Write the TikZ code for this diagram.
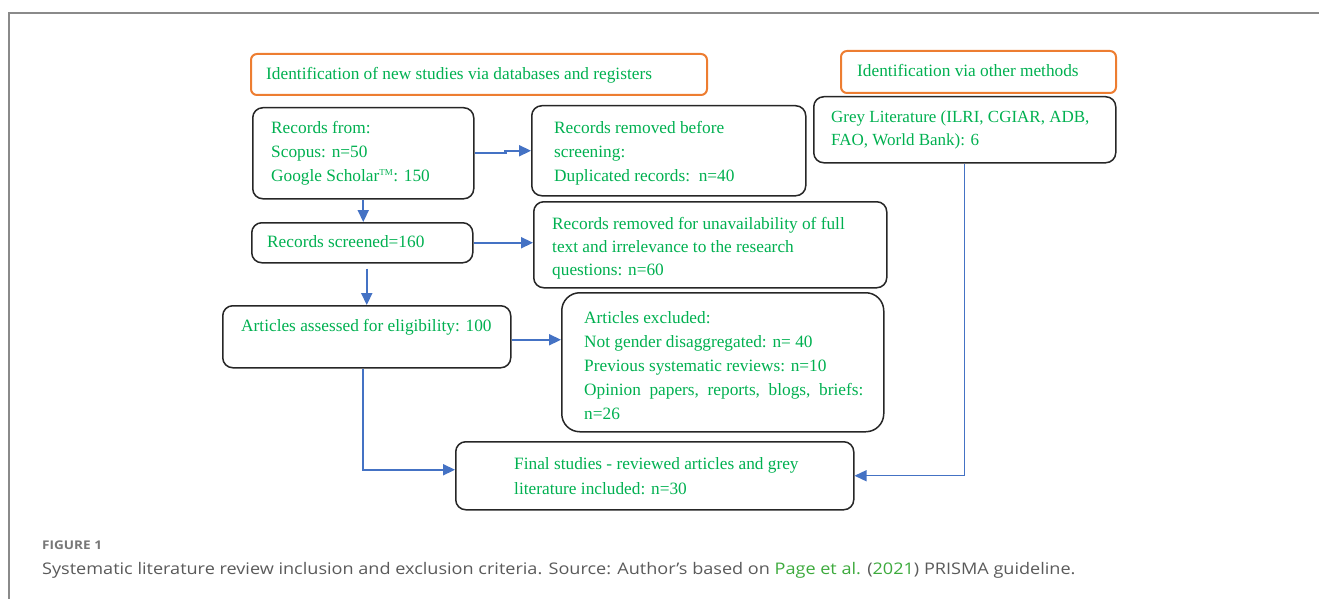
\documentclass[tikz,border=0pt]{standalone}
\usepackage{fontspec}
\setmainfont{Liberation Serif}
\newfontfamily\capfont[FakeStretch=1.13]{Open Sans}
\usetikzlibrary{arrows.meta,calc}
\definecolor{txtgreen}{HTML}{00B050}
\definecolor{orangeb}{HTML}{ED7D31}
\definecolor{bluea}{HTML}{4472C4}
\definecolor{capgray}{HTML}{5A5A5A}
\definecolor{figgray}{HTML}{777777}
\definecolor{framegray}{HTML}{8A8A8A}
\definecolor{linkgreen}{HTML}{3DAA3D}
\tikzset{
  box/.style={draw=black!85, line width=1.5pt, rounded corners=10pt, anchor=north west, inner sep=0pt},
  obox/.style={draw=orangeb, line width=2pt, rounded corners=6pt, anchor=north west, inner sep=0pt},
  txt/.style={text=txtgreen, align=left, inner sep=0pt, anchor=north west, font=\fontsize{17.3}{24}\selectfont},
  conn/.style={draw=bluea, line width=2.2pt, -{Triangle[length=12pt,width=11pt]}},
  thinconn/.style={draw=bluea, line width=1.3pt, -{Triangle[length=12pt,width=11pt]}},
}
\begin{document}
\begin{tikzpicture}[x=1pt,y=-1pt]
\useasboundingbox (0,0) rectangle (1319,599);
% frame
\draw[framegray, line width=1.6pt] (1319,13) -- (9,13) -- (9,599);
% boxes
\node[obox, minimum width=456pt, minimum height=41pt] (h1) at (250,53) {};
\node[obox, minimum width=275pt, minimum height=42pt] (h2) at (840,50) {};
\node[box, minimum width=221pt, minimum height=91pt] (rf) at (252,107) {};
\node[box, minimum width=274pt, minimum height=90pt] (rm1) at (531,105) {};
\node[box, minimum width=302pt, minimum height=66pt] (grey) at (813,96) {};
\node[box, minimum width=221pt, minimum height=40pt] (rs) at (251,222) {};
\node[box, minimum width=353pt, minimum height=86pt] (rm2) at (533,201) {};
\node[box, minimum width=288pt, minimum height=62pt] (aa) at (222,305) {};
\node[box, rounded corners=18pt, minimum width=322pt, minimum height=139pt] (ae) at (561,292) {};
\node[box, minimum width=398pt, minimum height=68pt] (fs) at (455,441) {};
% texts
\node[txt] (t1) at (266,62.7) {\strut Identification of new studies via databases and registers};
\node[txt] (t2) at (857,59.7) {\strut Identification via other methods};
\node[txt] (t3) at (271,116.7) {\strut Records from:\\Scopus: n=50\\Google Scholar\textsuperscript{\small TM}: 150};
\node[txt] (t4) at (554,116.7) {\strut Records removed before\\screening:\\Duplicated records:\ \ n=40};
\node[txt, font=\fontsize{17}{23}\selectfont] (t5) at (831,106.7) {\strut Grey Literature (ILRI, CGIAR, ADB,\\FAO, World Bank): 6};
\node[txt] (t6) at (267,230.7) {\strut Records screened=160};
\node[txt, font=\fontsize{17.3}{23}\selectfont] (t7) at (552,212.7) {\strut Records removed for unavailability of full\\text and irrelevance to the research\\questions: n=60};
\node[txt] (t8) at (241,314.7) {\strut Articles assessed for eligibility: 100};
\node[txt] (t9) at (584,306.7) {\strut Articles excluded:\\Not gender disaggregated: n= 40\\Previous systematic reviews: n=10\\Opinion\ \ papers,\ \ reports,\ \ blogs,\ \ briefs:\\n=26};
\node[txt, font=\fontsize{17.3}{25}\selectfont] (t10) at (514,451.7) {\strut Final studies - reviewed articles and grey\\literature included: n=30};
% connectors
\draw[conn] (rf.east) -- ++(31,0) |- (rm1.west);
\draw[conn] (rf.south) -- (rf.south |- rs.north);
\draw[conn] (rs.east) -- (rs.east -| rm2.west);
\draw[conn] ([yshift=-5pt]rs.south -| aa.north) -- (aa.north);
\draw[conn] (aa.east) ++(0,3) -- ($(aa.east -| ae.west)+(0,3)$);
\draw[conn] ([xshift=-4pt]aa.south) |- ([yshift=6pt]fs.west);
\draw[thinconn] (grey.south) |- (fs.east);
% caption
\node[anchor=west, inner sep=0pt, text=figgray, font=\capfont\bfseries\fontsize{12}{14}\selectfont] (fig) at (42,545) {FIGURE 1};
\node[anchor=west, inner sep=0pt, text=capgray, font=\capfont\fontsize{16}{19}\selectfont] (cap) at (42,570) {Systematic literature review inclusion and exclusion criteria. Source: Author’s based on \textcolor{linkgreen}{Page et al.} (\textcolor{linkgreen}{2021}) PRISMA guideline.};
\end{tikzpicture}
\end{document}
